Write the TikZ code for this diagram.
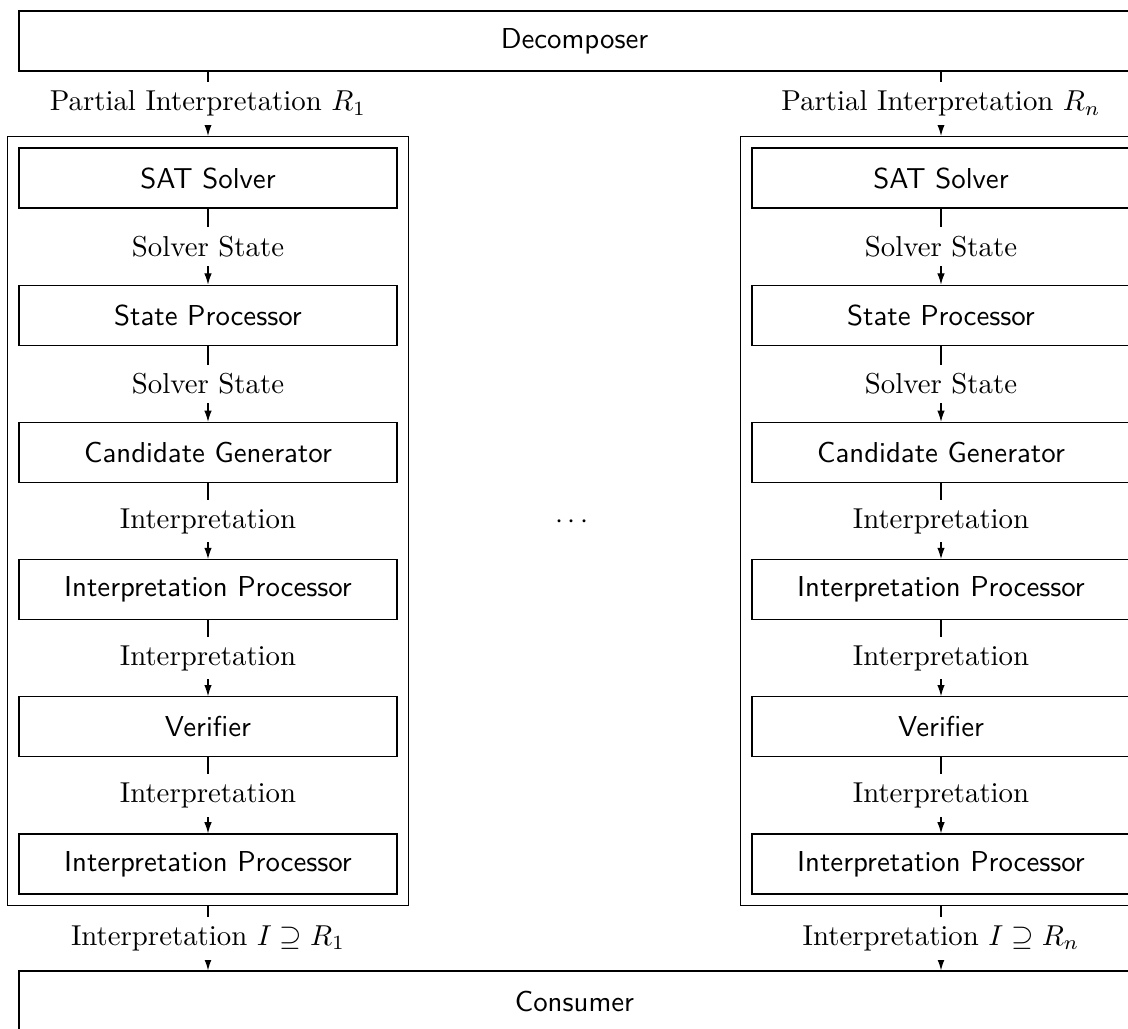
\documentclass[tikz,border=0pt]{standalone}
\usetikzlibrary{arrows.meta,fit}
\begin{document}
\begin{tikzpicture}[x=0.3472pt,y=-0.3472pt,
  box/.style={draw,font=\sffamily,minimum width=131.25pt,minimum height=20.83pt,inner sep=0pt},
  wide/.style={box,minimum width=385.7pt},
  lbl/.style={fill=white,inner sep=3pt},
  arr/.style={-{Latex[length=3.9pt,width=2.6pt]}},
  outer/.style={draw,inner sep=3.8pt}]
\useasboundingbox (0,0) rectangle (1128,1028);
\node[wide] (dec) at (574.5,41) {Decomposer};
\node[wide] (cons) at (574.5,1001) {Consumer};
% left column
\node[box] (a1) at (208,178) {SAT Solver};
\node[box] (a2) at (208,315.2) {State Processor};
\node[box] (a3) at (208,452.4) {Candidate Generator};
\node[box] (a4) at (208,589.6) {Interpretation Processor};
\node[box] (a5) at (208,726.8) {Verifier};
\node[box] (a6) at (208,864) {Interpretation Processor};
\node[outer,fit=(a1)(a6)] (ca) {};
% right column
\node[box] (b1) at (941,178) {SAT Solver};
\node[box] (b2) at (941,315.2) {State Processor};
\node[box] (b3) at (941,452.4) {Candidate Generator};
\node[box] (b4) at (941,589.6) {Interpretation Processor};
\node[box] (b5) at (941,726.8) {Verifier};
\node[box] (b6) at (941,864) {Interpretation Processor};
\node[outer,fit=(b1)(b6)] (cb) {};
\node[anchor=base] (dots) at (572,528) {$\cdots$};
% connectors
\foreach \c in {a,b}{
  \draw[arr] (\c1) -- node[lbl]{Solver State} (\c2);
  \draw[arr] (\c2) -- node[lbl]{Solver State} (\c3);
  \draw[arr] (\c3) -- node[lbl]{Interpretation} (\c4);
  \draw[arr] (\c4) -- node[lbl]{Interpretation} (\c5);
  \draw[arr] (\c5) -- node[lbl]{Interpretation} (\c6);
}
\draw[arr] (dec.south -| ca.north) -- node[lbl]{Partial Interpretation $R_1$} (ca.north);
\draw[arr] (dec.south -| cb.north) -- node[lbl]{Partial Interpretation $R_n$} (cb.north);
\draw[arr] (ca.south) -- node[lbl]{Interpretation $I \supseteq R_1$} (cons.north -| ca.south);
\draw[arr] (cb.south) -- node[lbl]{Interpretation $I \supseteq R_n$} (cons.north -| cb.south);
\end{tikzpicture}
\end{document}
